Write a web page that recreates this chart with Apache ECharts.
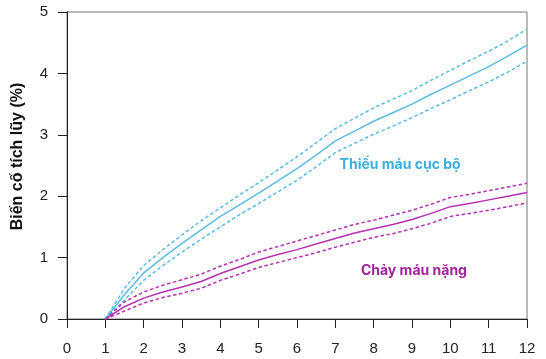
<!DOCTYPE html>
<html><head><meta charset="utf-8">
<script src="https://cdn.jsdelivr.net/npm/echarts@6/dist/echarts.min.js"></script>
<style>html,body{margin:0;padding:0;background:#fff}#c{width:546px;height:359px}</style>
</head><body><div id="c"></div>
<script>
const years = [1,1.5,2,2.5,3,3.5,4,4.5,5,5.5,6,6.5,7,7.5,8,8.5,9,9.5,10,10.5,11,11.5,12];
const ischemiaMean  = [0,0.40,0.75,1.00,1.23,1.45,1.67,1.86,2.05,2.25,2.45,2.67,2.90,3.06,3.22,3.36,3.50,3.66,3.81,3.96,4.11,4.28,4.46];
const ischemiaUpper = [0,0.50,0.87,1.13,1.37,1.60,1.81,2.02,2.22,2.43,2.64,2.87,3.10,3.27,3.44,3.58,3.72,3.89,4.05,4.21,4.36,4.53,4.72];
const ischemiaLower = [0,0.31,0.63,0.87,1.09,1.30,1.50,1.70,1.88,2.07,2.26,2.48,2.71,2.86,3.01,3.14,3.28,3.43,3.57,3.72,3.86,4.02,4.20];
const bleedMean  = [0,0.20,0.34,0.44,0.52,0.61,0.74,0.85,0.96,1.05,1.13,1.22,1.31,1.40,1.47,1.54,1.62,1.72,1.83,1.88,1.94,2.00,2.06];
const bleedUpper = [0,0.28,0.44,0.55,0.64,0.73,0.86,0.97,1.09,1.18,1.27,1.36,1.45,1.54,1.61,1.69,1.77,1.87,1.98,2.03,2.09,2.15,2.21];
const bleedLower = [0,0.13,0.26,0.35,0.42,0.50,0.63,0.73,0.84,0.92,1.00,1.08,1.17,1.25,1.33,1.39,1.47,1.56,1.67,1.72,1.77,1.83,1.89];
const xTicks = [0,1,2,3,4,5,6,7,8,9,10,11,12];
const labelIschemia = 'Thiếu máu cục bộ';
const labelBleed = 'Chảy máu nặng';
const yTitle = 'Biến cố tích lũy (%)';

const BLUE = '#5bbbe0', MAG = '#b531b2';
const pair = (ys) => years.map((x,i)=>[x, ys[i]]);
const FONT = 'Liberation Sans, Arial, sans-serif';
function line(name, ys, color, dashed, extra){
  return Object.assign({
    type:'line', name, data: pair(ys), showSymbol:false, symbol:'none', smooth:false,
    lineStyle:{color, width:1.5, type: dashed ? [3.5,2.5] : 'solid'}, z: dashed?2:3, silent:true
  }, extra||{});
}
const chart = echarts.init(document.getElementById('c'), null, {renderer:'canvas'});
chart.setOption({
  animation:false,
  textStyle:{fontFamily:FONT},
  grid:{left:67, right:19, top:12, bottom:40, show:true, borderColor:'#777', borderWidth:1, backgroundColor:'transparent'},
  xAxis:{type:'value', min:0, max:12, interval:1,
    axisLine:{show:true, onZero:false, lineStyle:{color:'#222', width:1}},
    axisTick:{show:true, inside:false, length:9, lineStyle:{color:'#222'}},
    axisLabel:{show:true, color:'#222', fontSize:15, margin:22, fontFamily:FONT,
      formatter:(v)=> xTicks.includes(v) ? String(v) : ''},
    splitLine:{show:false}},
  yAxis:{type:'value', min:0, max:5, interval:1,
    name: yTitle, nameLocation:'middle', nameGap:41, nameRotate:90,
    nameTextStyle:{fontSize:16, fontWeight:'bold', color:'#111', fontFamily:FONT, padding:[0,0,0,18]},
    axisLine:{show:true, lineStyle:{color:'#222', width:1}},
    axisTick:{show:true, inside:false, length:9, lineStyle:{color:'#222'}},
    axisLabel:{color:'#222', fontSize:15, margin:19, fontFamily:FONT},
    splitLine:{show:false}},
  series:[
    line('iu', ischemiaUpper, BLUE, true),
    line('il', ischemiaLower, BLUE, true),
    line('im', ischemiaMean, BLUE, false, {
      markPoint:{symbol:'circle', symbolSize:0, silent:true,
        data:[{coord:[8.69,2.51], label:{show:true, formatter:labelIschemia, color:'#3aaedf', fontSize:14, fontWeight:'bold', fontFamily:'Inter, sans-serif', position:'inside'}}]}}),
    line('bu', bleedUpper, MAG, true),
    line('bl', bleedLower, MAG, true),
    line('bm', bleedMean, MAG, false, {
      markPoint:{symbol:'circle', symbolSize:0, silent:true,
        data:[{coord:[9.05,0.78], label:{show:true, formatter:labelBleed, color:'#a2229c', fontSize:14, fontWeight:'bold', fontFamily:'Inter, sans-serif', position:'inside'}}]}})
  ]
});
</script></body></html>
